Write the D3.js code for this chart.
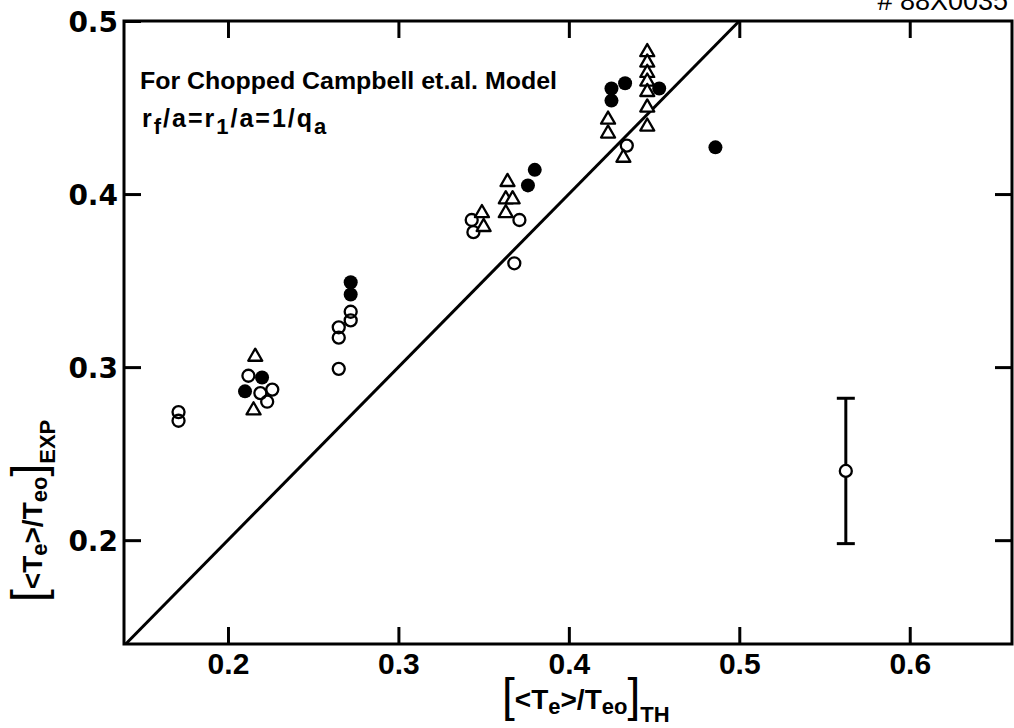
<!DOCTYPE html>
<html>
<head>
<meta charset="utf-8">
<script src="https://cdn.jsdelivr.net/npm/d3@7"></script>
<style>
  body { margin: 0; background: #fff; }
  svg { display: block; }
  .ylab text { font-family: "DejaVu Sans", sans-serif; font-weight: bold; font-size: 28px; }
  .xlab text { font-family: "Liberation Sans", Arial, sans-serif; font-weight: bold; font-size: 30px; }
</style>
</head>
<body>
<div id="chart"></div>
<script>
// axis ticks
var xTicks = [0.2, 0.3, 0.4, 0.5, 0.6];
var yTicks = [0.2, 0.3, 0.4, 0.5];

// open circles
var openX = [0.171, 0.171, 0.212, 0.219, 0.226, 0.223, 0.272, 0.272, 0.265, 0.265, 0.265, 0.343, 0.344, 0.371, 0.368, 0.434];
var openY = [0.274, 0.269, 0.295, 0.285, 0.287, 0.280, 0.332, 0.327, 0.323, 0.317, 0.299, 0.385, 0.378, 0.385, 0.360, 0.428];

// filled circles
var fillX = [0.220, 0.210, 0.272, 0.272, 0.376, 0.380, 0.425, 0.425, 0.433, 0.453, 0.486];
var fillY = [0.294, 0.286, 0.349, 0.342, 0.405, 0.414, 0.461, 0.454, 0.464, 0.461, 0.427];

// open triangles
var triX = [0.216, 0.215, 0.349, 0.350, 0.364, 0.363, 0.367, 0.363, 0.423, 0.423, 0.446, 0.446, 0.446, 0.446, 0.446, 0.446, 0.446, 0.432];
var triY = [0.306, 0.275, 0.389, 0.381, 0.407, 0.397, 0.397, 0.389, 0.443, 0.435, 0.482, 0.476, 0.470, 0.465, 0.459, 0.450, 0.439, 0.421];

// typical error bar
var errX = [0.5625];
var errY = [0.240];
var errLo = [0.198];
var errHi = [0.282];

// model line
var lineX = [0.14, 0.5];
var lineY = [0.14, 0.5];

var margin = {top: 21, right: 2, bottom: 84, left: 124},
    width = 1014 - margin.left - margin.right,
    height = 728 - margin.top - margin.bottom;

var svgRoot = d3.select("#chart")
  .append("svg")
    .attr("width", 1014)
    .attr("height", 728);

var svg = svgRoot.append("g")
    .attr("transform", "translate(" + margin.left + "," + margin.top + ")");

var x = d3.scaleLinear().domain([0.139, 0.66]).range([0, width]);
var y = d3.scaleLinear().domain([0.14, 0.5]).range([height, 0]);

// axes, ticks pointing inward
var gx = svg.append("g")
  .attr("class", "xlab")
  .attr("transform", "translate(0," + height + ")")
  .call(d3.axisBottom(x).tickValues(xTicks).tickSize(-17).tickPadding(9).tickFormat(d3.format(".1f")));
var gy = svg.append("g")
  .attr("class", "ylab")
  .call(d3.axisLeft(y).tickValues(yTicks).tickSize(-17).tickPadding(6).tickFormat(d3.format(".1f")));
svg.append("g")
  .call(d3.axisTop(x).tickValues(xTicks).tickSize(-17).tickFormat(""));
svg.append("g")
  .attr("transform", "translate(" + width + ",0)")
  .call(d3.axisRight(y).tickValues([0.2, 0.3, 0.4]).tickSize(-17).tickFormat(""));

svg.selectAll(".domain").remove();
svg.selectAll(".tick line").attr("stroke", "#000").attr("stroke-width", 3);
svg.selectAll(".tick text").attr("fill", "#000");
gy.selectAll(".tick text").attr("dy", "0.36em");

// frame
svg.append("rect")
  .attr("x", 0).attr("y", 0)
  .attr("width", width).attr("height", height)
  .attr("fill", "none")
  .attr("stroke", "#000")
  .attr("stroke-width", 3);

// diagonal
svg.append("path")
  .datum(d3.zip(lineX, lineY))
  .attr("fill", "none")
  .attr("stroke", "#000")
  .attr("stroke-width", 3)
  .attr("d", d3.line().x(function(d) { return x(d[0]); }).y(function(d) { return y(d[1]); }));

// error bar
var eb = svg.append("g").selectAll("g")
  .data(d3.range(errX.length))
  .enter().append("g");
eb.append("line")
  .attr("x1", function(i) { return x(errX[i]); })
  .attr("x2", function(i) { return x(errX[i]); })
  .attr("y1", function(i) { return y(errLo[i]); })
  .attr("y2", function(i) { return y(errHi[i]); })
  .attr("stroke", "#000").attr("stroke-width", 3);
eb.append("line")
  .attr("x1", function(i) { return x(errX[i]) - 9; })
  .attr("x2", function(i) { return x(errX[i]) + 9; })
  .attr("y1", function(i) { return y(errHi[i]); })
  .attr("y2", function(i) { return y(errHi[i]); })
  .attr("stroke", "#000").attr("stroke-width", 3);
eb.append("line")
  .attr("x1", function(i) { return x(errX[i]) - 9; })
  .attr("x2", function(i) { return x(errX[i]) + 9; })
  .attr("y1", function(i) { return y(errLo[i]); })
  .attr("y2", function(i) { return y(errLo[i]); })
  .attr("stroke", "#000").attr("stroke-width", 3);
eb.append("circle")
  .attr("cx", function(i) { return x(errX[i]); })
  .attr("cy", function(i) { return y(errY[i]); })
  .attr("r", 6)
  .attr("fill", "#fff").attr("stroke", "#000").attr("stroke-width", 2.3);

// open circles
svg.append("g").selectAll("circle")
  .data(d3.zip(openX, openY))
  .enter().append("circle")
    .attr("cx", function(d) { return x(d[0]); })
    .attr("cy", function(d) { return y(d[1]); })
    .attr("r", 6)
    .attr("fill", "none")
    .attr("stroke", "#000")
    .attr("stroke-width", 2.3);

// filled circles
svg.append("g").selectAll("circle")
  .data(d3.zip(fillX, fillY))
  .enter().append("circle")
    .attr("cx", function(d) { return x(d[0]); })
    .attr("cy", function(d) { return y(d[1]); })
    .attr("r", 7)
    .attr("fill", "#000");

// triangles
var tri = d3.symbol().type(d3.symbolTriangle).size(85);
svg.append("g").selectAll("path")
  .data(d3.zip(triX, triY))
  .enter().append("path")
    .attr("transform", function(d) { return "translate(" + x(d[0]) + "," + y(d[1]) + ")"; })
    .attr("d", tri)
    .attr("fill", "#fff")
    .attr("stroke", "#000")
    .attr("stroke-width", 2.3)
    .attr("stroke-linejoin", "round");

// text helpers
var fontT = "'Liberation Sans', Arial, sans-serif";

// annotation
svgRoot.append("text")
  .attr("x", 140).attr("y", 89)
  .attr("font-family", fontT).attr("font-weight", "bold").attr("font-size", 24)
  .attr("textLength", 417).attr("lengthAdjust", "spacingAndGlyphs")
  .text("For Chopped  Campbell et.al. Model");

var t2 = svgRoot.append("text")
  .attr("x", 142).attr("y", 127)
  .attr("font-family", fontT).attr("font-weight", "bold").attr("font-size", 25)
  .attr("letter-spacing", 2);
t2.append("tspan").text("r");
t2.append("tspan").attr("dy", 7).attr("font-size", 22).text("f");
t2.append("tspan").attr("dy", -7).text("/a=r");
t2.append("tspan").attr("dy", 7).attr("font-size", 22).text("1");
t2.append("tspan").attr("dy", -7).text("/a=1/q");
t2.append("tspan").attr("dy", 7).attr("font-size", 22).text("a");

// serial number, cut at the top
svgRoot.append("text")
  .attr("x", 1008).attr("y", 10)
  .attr("text-anchor", "end")
  .attr("font-family", fontT).attr("font-size", 27)
  .text("# 88X0035");

// axis titles
function bracketTitle(g, sub) {
  g.append("tspan").attr("font-size", 46).attr("font-weight", "normal").text("[");
  g.append("tspan").attr("dy", -2).text("<T");
  g.append("tspan").attr("dy", 5).attr("font-size", 22).text("e");
  g.append("tspan").attr("dy", -5).text(">/T");
  g.append("tspan").attr("dy", 5).attr("font-size", 22).text("eo");
  g.append("tspan").attr("dy", -3).attr("font-size", 46).attr("font-weight", "normal").text("]");
  g.append("tspan").attr("dy", 11).attr("font-size", 22).text(sub);
}

var xt = svgRoot.append("text")
  .attr("x", 502).attr("y", 711)
  .attr("font-family", fontT).attr("font-weight", "bold").attr("font-size", 28);
bracketTitle(xt, "TH");

var yt = svgRoot.append("text")
  .attr("transform", "translate(44,602) rotate(-90)")
  .attr("font-family", fontT).attr("font-weight", "bold").attr("font-size", 28);
bracketTitle(yt, "EXP");
</script>
</body>
</html>
